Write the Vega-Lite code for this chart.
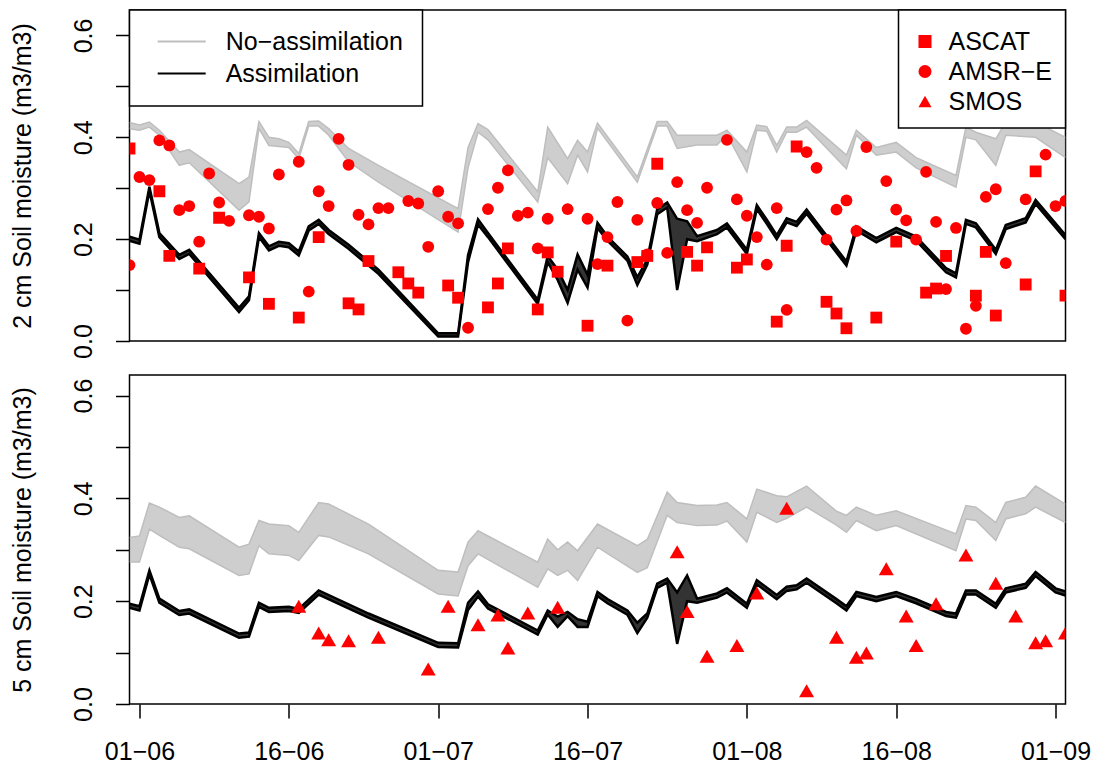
{
 "$schema": "https://vega.github.io/schema/vega-lite/v6.json",
 "background": "white",
 "padding": {"left": 8.5, "top": 8, "right": 0, "bottom": 0},
 "spacing": 34,
 "bounds": "flush",
 "config": {
  "font": "Liberation Sans",
  "view": {"stroke": "black", "strokeWidth": 1.5},
  "axis": {"grid": false, "domain": false, "tickColor": "black", "tickWidth": 1.5, "tickSize": 14, "labelFont": "Liberation Sans", "labelFontSize": 25, "labelColor": "black", "titleFont": "Liberation Sans", "titleFontSize": 25, "titleFontWeight": "normal", "titleColor": "black", "labelOverlap": false, "labelFlush": false},
  "legend": {"labelFont": "Liberation Sans", "labelFontSize": 25, "labelColor": "black", "strokeColor": "black", "strokeWidth": 1.5, "fillColor": "white", "offset": 0, "cornerRadius": 0, "labelLimit": 400}
 },
 "resolve": {"scale": {"x": "independent", "y": "independent", "stroke": "independent", "shape": "independent"}, "legend": {"stroke": "independent", "shape": "independent"}},
 "datasets": {
  "top_lines": [
   {"run":"No−assimilation","date":"2010-05-31","lo":0.417,"hi":0.429},
   {"run":"No−assimilation","date":"2010-06-01","lo":0.414,"hi":0.424},
   {"run":"No−assimilation","date":"2010-06-02","lo":0.420,"hi":0.430},
   {"run":"No−assimilation","date":"2010-06-03","lo":0.404,"hi":0.414},
   {"run":"No−assimilation","date":"2010-06-05","lo":0.345,"hi":0.371},
   {"run":"No−assimilation","date":"2010-06-06","lo":0.350,"hi":0.376},
   {"run":"No−assimilation","date":"2010-06-11","lo":0.257,"hi":0.309},
   {"run":"No−assimilation","date":"2010-06-12","lo":0.273,"hi":0.322},
   {"run":"No−assimilation","date":"2010-06-13","lo":0.417,"hi":0.431},
   {"run":"No−assimilation","date":"2010-06-14","lo":0.384,"hi":0.400},
   {"run":"No−assimilation","date":"2010-06-15","lo":0.382,"hi":0.397},
   {"run":"No−assimilation","date":"2010-06-16","lo":0.380,"hi":0.390},
   {"run":"No−assimilation","date":"2010-06-17","lo":0.358,"hi":0.368},
   {"run":"No−assimilation","date":"2010-06-18","lo":0.422,"hi":0.431},
   {"run":"No−assimilation","date":"2010-06-19","lo":0.422,"hi":0.432},
   {"run":"No−assimilation","date":"2010-06-20","lo":0.404,"hi":0.417},
   {"run":"No−assimilation","date":"2010-06-22","lo":0.352,"hi":0.378},
   {"run":"No−assimilation","date":"2010-06-25","lo":0.312,"hi":0.345},
   {"run":"No−assimilation","date":"2010-07-03","lo":0.214,"hi":0.260},
   {"run":"No−assimilation","date":"2010-07-04","lo":0.340,"hi":0.380},
   {"run":"No−assimilation","date":"2010-07-05","lo":0.410,"hi":0.427},
   {"run":"No−assimilation","date":"2010-07-06","lo":0.395,"hi":0.415},
   {"run":"No−assimilation","date":"2010-07-11","lo":0.273,"hi":0.293},
   {"run":"No−assimilation","date":"2010-07-12","lo":0.360,"hi":0.420},
   {"run":"No−assimilation","date":"2010-07-14","lo":0.309,"hi":0.358},
   {"run":"No−assimilation","date":"2010-07-15","lo":0.365,"hi":0.394},
   {"run":"No−assimilation","date":"2010-07-16","lo":0.332,"hi":0.371},
   {"run":"No−assimilation","date":"2010-07-17","lo":0.418,"hi":0.428},
   {"run":"No−assimilation","date":"2010-07-21","lo":0.312,"hi":0.322},
   {"run":"No−assimilation","date":"2010-07-23","lo":0.422,"hi":0.431},
   {"run":"No−assimilation","date":"2010-07-24","lo":0.422,"hi":0.431},
   {"run":"No−assimilation","date":"2010-07-25","lo":0.378,"hi":0.404},
   {"run":"No−assimilation","date":"2010-07-27","lo":0.385,"hi":0.404},
   {"run":"No−assimilation","date":"2010-07-29","lo":0.385,"hi":0.404},
   {"run":"No−assimilation","date":"2010-07-30","lo":0.405,"hi":0.414},
   {"run":"No−assimilation","date":"2010-08-01","lo":0.332,"hi":0.371},
   {"run":"No−assimilation","date":"2010-08-02","lo":0.414,"hi":0.424},
   {"run":"No−assimilation","date":"2010-08-03","lo":0.412,"hi":0.421},
   {"run":"No−assimilation","date":"2010-08-04","lo":0.371,"hi":0.384},
   {"run":"No−assimilation","date":"2010-08-05","lo":0.410,"hi":0.420},
   {"run":"No−assimilation","date":"2010-08-06","lo":0.410,"hi":0.420},
   {"run":"No−assimilation","date":"2010-08-07","lo":0.420,"hi":0.433},
   {"run":"No−assimilation","date":"2010-08-11","lo":0.338,"hi":0.365},
   {"run":"No−assimilation","date":"2010-08-12","lo":0.404,"hi":0.414},
   {"run":"No−assimilation","date":"2010-08-14","lo":0.365,"hi":0.380},
   {"run":"No−assimilation","date":"2010-08-16","lo":0.371,"hi":0.390},
   {"run":"No−assimilation","date":"2010-08-18","lo":0.340,"hi":0.360},
   {"run":"No−assimilation","date":"2010-08-22","lo":0.302,"hi":0.325},
   {"run":"No−assimilation","date":"2010-08-23","lo":0.400,"hi":0.420},
   {"run":"No−assimilation","date":"2010-08-24","lo":0.395,"hi":0.410},
   {"run":"No−assimilation","date":"2010-08-26","lo":0.345,"hi":0.397},
   {"run":"No−assimilation","date":"2010-08-27","lo":0.404,"hi":0.430},
   {"run":"No−assimilation","date":"2010-08-30","lo":0.400,"hi":0.430},
   {"run":"No−assimilation","date":"2010-09-02","lo":0.360,"hi":0.400},
   {"run":"Assimilation","date":"2010-05-31","lo":0.197,"hi":0.205},
   {"run":"Assimilation","date":"2010-06-01","lo":0.191,"hi":0.199},
   {"run":"Assimilation","date":"2010-06-02","lo":0.295,"hi":0.303},
   {"run":"Assimilation","date":"2010-06-03","lo":0.204,"hi":0.212},
   {"run":"Assimilation","date":"2010-06-05","lo":0.161,"hi":0.169},
   {"run":"Assimilation","date":"2010-06-06","lo":0.171,"hi":0.179},
   {"run":"Assimilation","date":"2010-06-11","lo":0.057,"hi":0.065},
   {"run":"Assimilation","date":"2010-06-12","lo":0.080,"hi":0.088},
   {"run":"Assimilation","date":"2010-06-13","lo":0.204,"hi":0.212},
   {"run":"Assimilation","date":"2010-06-14","lo":0.178,"hi":0.186},
   {"run":"Assimilation","date":"2010-06-15","lo":0.187,"hi":0.195},
   {"run":"Assimilation","date":"2010-06-16","lo":0.184,"hi":0.192},
   {"run":"Assimilation","date":"2010-06-17","lo":0.168,"hi":0.176},
   {"run":"Assimilation","date":"2010-06-18","lo":0.217,"hi":0.225},
   {"run":"Assimilation","date":"2010-06-19","lo":0.230,"hi":0.238},
   {"run":"Assimilation","date":"2010-06-20","lo":0.210,"hi":0.218},
   {"run":"Assimilation","date":"2010-06-22","lo":0.181,"hi":0.189},
   {"run":"Assimilation","date":"2010-06-25","lo":0.132,"hi":0.140},
   {"run":"Assimilation","date":"2010-07-01","lo":0.009,"hi":0.015},
   {"run":"Assimilation","date":"2010-07-03","lo":0.009,"hi":0.015},
   {"run":"Assimilation","date":"2010-07-04","lo":0.155,"hi":0.169},
   {"run":"Assimilation","date":"2010-07-05","lo":0.229,"hi":0.239},
   {"run":"Assimilation","date":"2010-07-06","lo":0.204,"hi":0.212},
   {"run":"Assimilation","date":"2010-07-11","lo":0.073,"hi":0.081},
   {"run":"Assimilation","date":"2010-07-12","lo":0.155,"hi":0.167},
   {"run":"Assimilation","date":"2010-07-13","lo":0.120,"hi":0.140},
   {"run":"Assimilation","date":"2010-07-14","lo":0.075,"hi":0.100},
   {"run":"Assimilation","date":"2010-07-15","lo":0.140,"hi":0.170},
   {"run":"Assimilation","date":"2010-07-16","lo":0.105,"hi":0.130},
   {"run":"Assimilation","date":"2010-07-17","lo":0.222,"hi":0.232},
   {"run":"Assimilation","date":"2010-07-18","lo":0.197,"hi":0.205},
   {"run":"Assimilation","date":"2010-07-20","lo":0.158,"hi":0.166},
   {"run":"Assimilation","date":"2010-07-21","lo":0.110,"hi":0.125},
   {"run":"Assimilation","date":"2010-07-22","lo":0.150,"hi":0.160},
   {"run":"Assimilation","date":"2010-07-23","lo":0.249,"hi":0.259},
   {"run":"Assimilation","date":"2010-07-24","lo":0.262,"hi":0.272},
   {"run":"Assimilation","date":"2010-07-25","lo":0.100,"hi":0.240},
   {"run":"Assimilation","date":"2010-07-26","lo":0.200,"hi":0.235},
   {"run":"Assimilation","date":"2010-07-27","lo":0.196,"hi":0.206},
   {"run":"Assimilation","date":"2010-07-29","lo":0.210,"hi":0.218},
   {"run":"Assimilation","date":"2010-07-30","lo":0.223,"hi":0.231},
   {"run":"Assimilation","date":"2010-08-01","lo":0.171,"hi":0.179},
   {"run":"Assimilation","date":"2010-08-02","lo":0.259,"hi":0.267},
   {"run":"Assimilation","date":"2010-08-03","lo":0.230,"hi":0.238},
   {"run":"Assimilation","date":"2010-08-04","lo":0.200,"hi":0.208},
   {"run":"Assimilation","date":"2010-08-05","lo":0.233,"hi":0.241},
   {"run":"Assimilation","date":"2010-08-06","lo":0.226,"hi":0.234},
   {"run":"Assimilation","date":"2010-08-07","lo":0.250,"hi":0.258},
   {"run":"Assimilation","date":"2010-08-11","lo":0.148,"hi":0.156},
   {"run":"Assimilation","date":"2010-08-12","lo":0.217,"hi":0.225},
   {"run":"Assimilation","date":"2010-08-14","lo":0.194,"hi":0.202},
   {"run":"Assimilation","date":"2010-08-16","lo":0.214,"hi":0.222},
   {"run":"Assimilation","date":"2010-08-18","lo":0.197,"hi":0.205},
   {"run":"Assimilation","date":"2010-08-21","lo":0.135,"hi":0.143},
   {"run":"Assimilation","date":"2010-08-22","lo":0.125,"hi":0.133},
   {"run":"Assimilation","date":"2010-08-23","lo":0.230,"hi":0.238},
   {"run":"Assimilation","date":"2010-08-24","lo":0.223,"hi":0.231},
   {"run":"Assimilation","date":"2010-08-26","lo":0.171,"hi":0.179},
   {"run":"Assimilation","date":"2010-08-27","lo":0.220,"hi":0.228},
   {"run":"Assimilation","date":"2010-08-29","lo":0.233,"hi":0.241},
   {"run":"Assimilation","date":"2010-08-30","lo":0.269,"hi":0.277},
   {"run":"Assimilation","date":"2010-09-02","lo":0.200,"hi":0.208}
  ],
  "bottom_lines": [
   {"run":"No−assimilation","date":"2010-05-31","lo":0.276,"hi":0.324},
   {"run":"No−assimilation","date":"2010-06-01","lo":0.276,"hi":0.327},
   {"run":"No−assimilation","date":"2010-06-02","lo":0.340,"hi":0.391},
   {"run":"No−assimilation","date":"2010-06-03","lo":0.328,"hi":0.383},
   {"run":"No−assimilation","date":"2010-06-05","lo":0.305,"hi":0.363},
   {"run":"No−assimilation","date":"2010-06-06","lo":0.302,"hi":0.366},
   {"run":"No−assimilation","date":"2010-06-11","lo":0.250,"hi":0.305},
   {"run":"No−assimilation","date":"2010-06-12","lo":0.253,"hi":0.311},
   {"run":"No−assimilation","date":"2010-06-13","lo":0.308,"hi":0.357},
   {"run":"No−assimilation","date":"2010-06-14","lo":0.292,"hi":0.350},
   {"run":"No−assimilation","date":"2010-06-16","lo":0.289,"hi":0.347},
   {"run":"No−assimilation","date":"2010-06-17","lo":0.279,"hi":0.334},
   {"run":"No−assimilation","date":"2010-06-19","lo":0.328,"hi":0.392},
   {"run":"No−assimilation","date":"2010-06-20","lo":0.325,"hi":0.389},
   {"run":"No−assimilation","date":"2010-06-24","lo":0.292,"hi":0.350},
   {"run":"No−assimilation","date":"2010-07-01","lo":0.214,"hi":0.260},
   {"run":"No−assimilation","date":"2010-07-03","lo":0.210,"hi":0.257},
   {"run":"No−assimilation","date":"2010-07-04","lo":0.269,"hi":0.315},
   {"run":"No−assimilation","date":"2010-07-05","lo":0.292,"hi":0.337},
   {"run":"No−assimilation","date":"2010-07-11","lo":0.227,"hi":0.276},
   {"run":"No−assimilation","date":"2010-07-12","lo":0.263,"hi":0.321},
   {"run":"No−assimilation","date":"2010-07-13","lo":0.250,"hi":0.300},
   {"run":"No−assimilation","date":"2010-07-14","lo":0.260,"hi":0.315},
   {"run":"No−assimilation","date":"2010-07-15","lo":0.240,"hi":0.298},
   {"run":"No−assimilation","date":"2010-07-17","lo":0.305,"hi":0.350},
   {"run":"No−assimilation","date":"2010-07-21","lo":0.256,"hi":0.308},
   {"run":"No−assimilation","date":"2010-07-22","lo":0.265,"hi":0.320},
   {"run":"No−assimilation","date":"2010-07-24","lo":0.367,"hi":0.412},
   {"run":"No−assimilation","date":"2010-07-25","lo":0.353,"hi":0.392},
   {"run":"No−assimilation","date":"2010-07-27","lo":0.347,"hi":0.386},
   {"run":"No−assimilation","date":"2010-07-29","lo":0.348,"hi":0.387},
   {"run":"No−assimilation","date":"2010-07-30","lo":0.356,"hi":0.392},
   {"run":"No−assimilation","date":"2010-08-01","lo":0.315,"hi":0.360},
   {"run":"No−assimilation","date":"2010-08-02","lo":0.373,"hi":0.418},
   {"run":"No−assimilation","date":"2010-08-04","lo":0.353,"hi":0.405},
   {"run":"No−assimilation","date":"2010-08-05","lo":0.361,"hi":0.403},
   {"run":"No−assimilation","date":"2010-08-07","lo":0.383,"hi":0.424},
   {"run":"No−assimilation","date":"2010-08-10","lo":0.348,"hi":0.375},
   {"run":"No−assimilation","date":"2010-08-11","lo":0.334,"hi":0.367},
   {"run":"No−assimilation","date":"2010-08-12","lo":0.357,"hi":0.383},
   {"run":"No−assimilation","date":"2010-08-14","lo":0.337,"hi":0.367},
   {"run":"No−assimilation","date":"2010-08-16","lo":0.347,"hi":0.376},
   {"run":"No−assimilation","date":"2010-08-22","lo":0.298,"hi":0.331},
   {"run":"No−assimilation","date":"2010-08-23","lo":0.360,"hi":0.386},
   {"run":"No−assimilation","date":"2010-08-24","lo":0.357,"hi":0.383},
   {"run":"No−assimilation","date":"2010-08-26","lo":0.318,"hi":0.353},
   {"run":"No−assimilation","date":"2010-08-27","lo":0.360,"hi":0.392},
   {"run":"No−assimilation","date":"2010-08-29","lo":0.370,"hi":0.402},
   {"run":"No−assimilation","date":"2010-08-30","lo":0.383,"hi":0.424},
   {"run":"No−assimilation","date":"2010-09-02","lo":0.353,"hi":0.389},
   {"run":"Assimilation","date":"2010-05-31","lo":0.187,"hi":0.195},
   {"run":"Assimilation","date":"2010-06-01","lo":0.182,"hi":0.190},
   {"run":"Assimilation","date":"2010-06-02","lo":0.252,"hi":0.260},
   {"run":"Assimilation","date":"2010-06-03","lo":0.197,"hi":0.205},
   {"run":"Assimilation","date":"2010-06-05","lo":0.173,"hi":0.181},
   {"run":"Assimilation","date":"2010-06-06","lo":0.176,"hi":0.184},
   {"run":"Assimilation","date":"2010-06-11","lo":0.129,"hi":0.137},
   {"run":"Assimilation","date":"2010-06-12","lo":0.131,"hi":0.139},
   {"run":"Assimilation","date":"2010-06-13","lo":0.189,"hi":0.197},
   {"run":"Assimilation","date":"2010-06-14","lo":0.179,"hi":0.187},
   {"run":"Assimilation","date":"2010-06-16","lo":0.181,"hi":0.189},
   {"run":"Assimilation","date":"2010-06-17","lo":0.177,"hi":0.185},
   {"run":"Assimilation","date":"2010-06-19","lo":0.213,"hi":0.221},
   {"run":"Assimilation","date":"2010-06-24","lo":0.168,"hi":0.176},
   {"run":"Assimilation","date":"2010-07-01","lo":0.111,"hi":0.119},
   {"run":"Assimilation","date":"2010-07-03","lo":0.110,"hi":0.118},
   {"run":"Assimilation","date":"2010-07-04","lo":0.183,"hi":0.197},
   {"run":"Assimilation","date":"2010-07-05","lo":0.209,"hi":0.219},
   {"run":"Assimilation","date":"2010-07-06","lo":0.186,"hi":0.194},
   {"run":"Assimilation","date":"2010-07-11","lo":0.135,"hi":0.143},
   {"run":"Assimilation","date":"2010-07-12","lo":0.174,"hi":0.182},
   {"run":"Assimilation","date":"2010-07-13","lo":0.150,"hi":0.170},
   {"run":"Assimilation","date":"2010-07-14","lo":0.171,"hi":0.179},
   {"run":"Assimilation","date":"2010-07-15","lo":0.150,"hi":0.165},
   {"run":"Assimilation","date":"2010-07-16","lo":0.150,"hi":0.160},
   {"run":"Assimilation","date":"2010-07-17","lo":0.210,"hi":0.218},
   {"run":"Assimilation","date":"2010-07-18","lo":0.196,"hi":0.204},
   {"run":"Assimilation","date":"2010-07-20","lo":0.174,"hi":0.182},
   {"run":"Assimilation","date":"2010-07-21","lo":0.138,"hi":0.158},
   {"run":"Assimilation","date":"2010-07-22","lo":0.168,"hi":0.176},
   {"run":"Assimilation","date":"2010-07-23","lo":0.226,"hi":0.234},
   {"run":"Assimilation","date":"2010-07-24","lo":0.236,"hi":0.244},
   {"run":"Assimilation","date":"2010-07-25","lo":0.117,"hi":0.217},
   {"run":"Assimilation","date":"2010-07-26","lo":0.200,"hi":0.250},
   {"run":"Assimilation","date":"2010-07-27","lo":0.197,"hi":0.205},
   {"run":"Assimilation","date":"2010-07-29","lo":0.207,"hi":0.215},
   {"run":"Assimilation","date":"2010-07-30","lo":0.217,"hi":0.225},
   {"run":"Assimilation","date":"2010-08-01","lo":0.187,"hi":0.195},
   {"run":"Assimilation","date":"2010-08-02","lo":0.233,"hi":0.241},
   {"run":"Assimilation","date":"2010-08-04","lo":0.204,"hi":0.212},
   {"run":"Assimilation","date":"2010-08-05","lo":0.220,"hi":0.228},
   {"run":"Assimilation","date":"2010-08-06","lo":0.223,"hi":0.231},
   {"run":"Assimilation","date":"2010-08-07","lo":0.236,"hi":0.244},
   {"run":"Assimilation","date":"2010-08-10","lo":0.196,"hi":0.204},
   {"run":"Assimilation","date":"2010-08-11","lo":0.182,"hi":0.190},
   {"run":"Assimilation","date":"2010-08-12","lo":0.210,"hi":0.218},
   {"run":"Assimilation","date":"2010-08-14","lo":0.200,"hi":0.208},
   {"run":"Assimilation","date":"2010-08-16","lo":0.210,"hi":0.218},
   {"run":"Assimilation","date":"2010-08-18","lo":0.196,"hi":0.204},
   {"run":"Assimilation","date":"2010-08-21","lo":0.171,"hi":0.179},
   {"run":"Assimilation","date":"2010-08-22","lo":0.168,"hi":0.176},
   {"run":"Assimilation","date":"2010-08-23","lo":0.213,"hi":0.221},
   {"run":"Assimilation","date":"2010-08-24","lo":0.213,"hi":0.221},
   {"run":"Assimilation","date":"2010-08-26","lo":0.187,"hi":0.195},
   {"run":"Assimilation","date":"2010-08-27","lo":0.217,"hi":0.225},
   {"run":"Assimilation","date":"2010-08-29","lo":0.226,"hi":0.234},
   {"run":"Assimilation","date":"2010-08-30","lo":0.249,"hi":0.257},
   {"run":"Assimilation","date":"2010-09-01","lo":0.217,"hi":0.225},
   {"run":"Assimilation","date":"2010-09-02","lo":0.211,"hi":0.219}
  ],
  "top_obs": [
   {"sensor":"ASCAT","date":"2010-05-31","sm":0.378},
   {"sensor":"ASCAT","date":"2010-06-03","sm":0.294},
   {"sensor":"ASCAT","date":"2010-06-04","sm":0.167},
   {"sensor":"ASCAT","date":"2010-06-07","sm":0.142},
   {"sensor":"ASCAT","date":"2010-06-09","sm":0.242},
   {"sensor":"ASCAT","date":"2010-06-12","sm":0.125},
   {"sensor":"ASCAT","date":"2010-06-14","sm":0.073},
   {"sensor":"ASCAT","date":"2010-06-17","sm":0.046},
   {"sensor":"ASCAT","date":"2010-06-19","sm":0.204},
   {"sensor":"ASCAT","date":"2010-06-22","sm":0.074},
   {"sensor":"ASCAT","date":"2010-06-23","sm":0.062},
   {"sensor":"ASCAT","date":"2010-06-24","sm":0.157},
   {"sensor":"ASCAT","date":"2010-06-27","sm":0.135},
   {"sensor":"ASCAT","date":"2010-06-28","sm":0.113},
   {"sensor":"ASCAT","date":"2010-06-29","sm":0.095},
   {"sensor":"ASCAT","date":"2010-07-02","sm":0.109},
   {"sensor":"ASCAT","date":"2010-07-03","sm":0.085},
   {"sensor":"ASCAT","date":"2010-07-06","sm":0.066},
   {"sensor":"ASCAT","date":"2010-07-07","sm":0.113},
   {"sensor":"ASCAT","date":"2010-07-08","sm":0.182},
   {"sensor":"ASCAT","date":"2010-07-11","sm":0.062},
   {"sensor":"ASCAT","date":"2010-07-12","sm":0.174},
   {"sensor":"ASCAT","date":"2010-07-13","sm":0.136},
   {"sensor":"ASCAT","date":"2010-07-16","sm":0.030},
   {"sensor":"ASCAT","date":"2010-07-18","sm":0.148},
   {"sensor":"ASCAT","date":"2010-07-21","sm":0.155},
   {"sensor":"ASCAT","date":"2010-07-22","sm":0.167},
   {"sensor":"ASCAT","date":"2010-07-23","sm":0.348},
   {"sensor":"ASCAT","date":"2010-07-26","sm":0.175},
   {"sensor":"ASCAT","date":"2010-07-27","sm":0.148},
   {"sensor":"ASCAT","date":"2010-07-28","sm":0.184},
   {"sensor":"ASCAT","date":"2010-07-31","sm":0.144},
   {"sensor":"ASCAT","date":"2010-08-01","sm":0.160},
   {"sensor":"ASCAT","date":"2010-08-04","sm":0.038},
   {"sensor":"ASCAT","date":"2010-08-05","sm":0.187},
   {"sensor":"ASCAT","date":"2010-08-06","sm":0.382},
   {"sensor":"ASCAT","date":"2010-08-09","sm":0.077},
   {"sensor":"ASCAT","date":"2010-08-10","sm":0.054},
   {"sensor":"ASCAT","date":"2010-08-11","sm":0.025},
   {"sensor":"ASCAT","date":"2010-08-14","sm":0.046},
   {"sensor":"ASCAT","date":"2010-08-16","sm":0.195},
   {"sensor":"ASCAT","date":"2010-08-19","sm":0.095},
   {"sensor":"ASCAT","date":"2010-08-20","sm":0.103},
   {"sensor":"ASCAT","date":"2010-08-21","sm":0.167},
   {"sensor":"ASCAT","date":"2010-08-24","sm":0.089},
   {"sensor":"ASCAT","date":"2010-08-25","sm":0.175},
   {"sensor":"ASCAT","date":"2010-08-26","sm":0.050},
   {"sensor":"ASCAT","date":"2010-08-29","sm":0.111},
   {"sensor":"ASCAT","date":"2010-08-30","sm":0.333},
   {"sensor":"ASCAT","date":"2010-09-02","sm":0.089},
   {"sensor":"AMSR−E","date":"2010-05-31","sm":0.149},
   {"sensor":"AMSR−E","date":"2010-06-01","sm":0.322},
   {"sensor":"AMSR−E","date":"2010-06-02","sm":0.316},
   {"sensor":"AMSR−E","date":"2010-06-03","sm":0.394},
   {"sensor":"AMSR−E","date":"2010-06-04","sm":0.384},
   {"sensor":"AMSR−E","date":"2010-06-05","sm":0.257},
   {"sensor":"AMSR−E","date":"2010-06-06","sm":0.265},
   {"sensor":"AMSR−E","date":"2010-06-07","sm":0.195},
   {"sensor":"AMSR−E","date":"2010-06-08","sm":0.329},
   {"sensor":"AMSR−E","date":"2010-06-09","sm":0.272},
   {"sensor":"AMSR−E","date":"2010-06-10","sm":0.236},
   {"sensor":"AMSR−E","date":"2010-06-12","sm":0.247},
   {"sensor":"AMSR−E","date":"2010-06-13","sm":0.244},
   {"sensor":"AMSR−E","date":"2010-06-14","sm":0.221},
   {"sensor":"AMSR−E","date":"2010-06-15","sm":0.327},
   {"sensor":"AMSR−E","date":"2010-06-17","sm":0.352},
   {"sensor":"AMSR−E","date":"2010-06-18","sm":0.097},
   {"sensor":"AMSR−E","date":"2010-06-19","sm":0.294},
   {"sensor":"AMSR−E","date":"2010-06-20","sm":0.265},
   {"sensor":"AMSR−E","date":"2010-06-21","sm":0.397},
   {"sensor":"AMSR−E","date":"2010-06-22","sm":0.346},
   {"sensor":"AMSR−E","date":"2010-06-23","sm":0.248},
   {"sensor":"AMSR−E","date":"2010-06-24","sm":0.229},
   {"sensor":"AMSR−E","date":"2010-06-25","sm":0.261},
   {"sensor":"AMSR−E","date":"2010-06-26","sm":0.261},
   {"sensor":"AMSR−E","date":"2010-06-28","sm":0.275},
   {"sensor":"AMSR−E","date":"2010-06-29","sm":0.270},
   {"sensor":"AMSR−E","date":"2010-06-30","sm":0.185},
   {"sensor":"AMSR−E","date":"2010-07-01","sm":0.294},
   {"sensor":"AMSR−E","date":"2010-07-02","sm":0.244},
   {"sensor":"AMSR−E","date":"2010-07-03","sm":0.231},
   {"sensor":"AMSR−E","date":"2010-07-04","sm":0.026},
   {"sensor":"AMSR−E","date":"2010-07-06","sm":0.259},
   {"sensor":"AMSR−E","date":"2010-07-07","sm":0.301},
   {"sensor":"AMSR−E","date":"2010-07-08","sm":0.335},
   {"sensor":"AMSR−E","date":"2010-07-09","sm":0.246},
   {"sensor":"AMSR−E","date":"2010-07-10","sm":0.252},
   {"sensor":"AMSR−E","date":"2010-07-11","sm":0.182},
   {"sensor":"AMSR−E","date":"2010-07-12","sm":0.240},
   {"sensor":"AMSR−E","date":"2010-07-14","sm":0.259},
   {"sensor":"AMSR−E","date":"2010-07-16","sm":0.240},
   {"sensor":"AMSR−E","date":"2010-07-17","sm":0.151},
   {"sensor":"AMSR−E","date":"2010-07-18","sm":0.204},
   {"sensor":"AMSR−E","date":"2010-07-19","sm":0.273},
   {"sensor":"AMSR−E","date":"2010-07-20","sm":0.040},
   {"sensor":"AMSR−E","date":"2010-07-21","sm":0.238},
   {"sensor":"AMSR−E","date":"2010-07-22","sm":0.170},
   {"sensor":"AMSR−E","date":"2010-07-23","sm":0.271},
   {"sensor":"AMSR−E","date":"2010-07-24","sm":0.173},
   {"sensor":"AMSR−E","date":"2010-07-25","sm":0.312},
   {"sensor":"AMSR−E","date":"2010-07-26","sm":0.257},
   {"sensor":"AMSR−E","date":"2010-07-27","sm":0.232},
   {"sensor":"AMSR−E","date":"2010-07-28","sm":0.301},
   {"sensor":"AMSR−E","date":"2010-07-30","sm":0.395},
   {"sensor":"AMSR−E","date":"2010-07-31","sm":0.278},
   {"sensor":"AMSR−E","date":"2010-08-01","sm":0.246},
   {"sensor":"AMSR−E","date":"2010-08-02","sm":0.204},
   {"sensor":"AMSR−E","date":"2010-08-03","sm":0.150},
   {"sensor":"AMSR−E","date":"2010-08-04","sm":0.261},
   {"sensor":"AMSR−E","date":"2010-08-05","sm":0.061},
   {"sensor":"AMSR−E","date":"2010-08-07","sm":0.371},
   {"sensor":"AMSR−E","date":"2010-08-08","sm":0.340},
   {"sensor":"AMSR−E","date":"2010-08-09","sm":0.199},
   {"sensor":"AMSR−E","date":"2010-08-10","sm":0.258},
   {"sensor":"AMSR−E","date":"2010-08-11","sm":0.276},
   {"sensor":"AMSR−E","date":"2010-08-12","sm":0.216},
   {"sensor":"AMSR−E","date":"2010-08-13","sm":0.381},
   {"sensor":"AMSR−E","date":"2010-08-15","sm":0.314},
   {"sensor":"AMSR−E","date":"2010-08-16","sm":0.258},
   {"sensor":"AMSR−E","date":"2010-08-17","sm":0.237},
   {"sensor":"AMSR−E","date":"2010-08-18","sm":0.199},
   {"sensor":"AMSR−E","date":"2010-08-19","sm":0.332},
   {"sensor":"AMSR−E","date":"2010-08-20","sm":0.234},
   {"sensor":"AMSR−E","date":"2010-08-21","sm":0.102},
   {"sensor":"AMSR−E","date":"2010-08-22","sm":0.222},
   {"sensor":"AMSR−E","date":"2010-08-23","sm":0.024},
   {"sensor":"AMSR−E","date":"2010-08-24","sm":0.069},
   {"sensor":"AMSR−E","date":"2010-08-25","sm":0.283},
   {"sensor":"AMSR−E","date":"2010-08-26","sm":0.298},
   {"sensor":"AMSR−E","date":"2010-08-27","sm":0.153},
   {"sensor":"AMSR−E","date":"2010-08-29","sm":0.278},
   {"sensor":"AMSR−E","date":"2010-08-31","sm":0.366},
   {"sensor":"AMSR−E","date":"2010-09-01","sm":0.265},
   {"sensor":"AMSR−E","date":"2010-09-02","sm":0.275}
  ],
  "bottom_obs": [
   {"sensor":"SMOS","date":"2010-06-17","sm":0.190},
   {"sensor":"SMOS","date":"2010-06-19","sm":0.138},
   {"sensor":"SMOS","date":"2010-06-20","sm":0.125},
   {"sensor":"SMOS","date":"2010-06-22","sm":0.123},
   {"sensor":"SMOS","date":"2010-06-25","sm":0.130},
   {"sensor":"SMOS","date":"2010-06-30","sm":0.068},
   {"sensor":"SMOS","date":"2010-07-02","sm":0.190},
   {"sensor":"SMOS","date":"2010-07-05","sm":0.154},
   {"sensor":"SMOS","date":"2010-07-07","sm":0.173},
   {"sensor":"SMOS","date":"2010-07-08","sm":0.109},
   {"sensor":"SMOS","date":"2010-07-10","sm":0.177},
   {"sensor":"SMOS","date":"2010-07-13","sm":0.188},
   {"sensor":"SMOS","date":"2010-07-25","sm":0.296},
   {"sensor":"SMOS","date":"2010-07-26","sm":0.180},
   {"sensor":"SMOS","date":"2010-07-28","sm":0.093},
   {"sensor":"SMOS","date":"2010-07-31","sm":0.114},
   {"sensor":"SMOS","date":"2010-08-02","sm":0.216},
   {"sensor":"SMOS","date":"2010-08-05","sm":0.381},
   {"sensor":"SMOS","date":"2010-08-07","sm":0.026},
   {"sensor":"SMOS","date":"2010-08-10","sm":0.130},
   {"sensor":"SMOS","date":"2010-08-12","sm":0.091},
   {"sensor":"SMOS","date":"2010-08-13","sm":0.099},
   {"sensor":"SMOS","date":"2010-08-15","sm":0.263},
   {"sensor":"SMOS","date":"2010-08-17","sm":0.171},
   {"sensor":"SMOS","date":"2010-08-18","sm":0.114},
   {"sensor":"SMOS","date":"2010-08-20","sm":0.195},
   {"sensor":"SMOS","date":"2010-08-23","sm":0.290},
   {"sensor":"SMOS","date":"2010-08-26","sm":0.235},
   {"sensor":"SMOS","date":"2010-08-28","sm":0.171},
   {"sensor":"SMOS","date":"2010-08-30","sm":0.119},
   {"sensor":"SMOS","date":"2010-08-31","sm":0.123},
   {"sensor":"SMOS","date":"2010-09-02","sm":0.138}
  ]
 },
 "vconcat": [
  {
   "width": 936,
   "height": 331,
   "encoding": {
    "x": {"field": "date", "type": "temporal", "scale": {"type": "utc", "domain": [{"year": 2010, "month": 5, "date": 31, "utc": true}, {"year": 2010, "month": 9, "date": 2, "utc": true}]}, "axis": null},
    "y": {"field": "sm", "type": "quantitative", "scale": {"domain": [0, 0.65], "nice": false, "zero": false}, "title": "2 cm Soil moisture (m3/m3)", "axis": {"values": [0, 0.1, 0.2, 0.3, 0.4, 0.5, 0.6], "labelExpr": "round(datum.value*10) % 2 === 0 ? format(datum.value, '.1f') : ''", "labelAngle": -90, "labelAlign": "center", "labelBaseline": "alphabetic", "labelPadding": 24.5, "labelFontSize": 25, "titleFontSize": 25, "titlePadding": 36}}
   },
   "layer": [
    {
     "data": {"name": "top_lines"},
     "transform": [{"filter": {"field": "run", "equal": "No−assimilation"}}],
     "mark": {"type": "area", "color": "#BEBEBE", "opacity": 0.75, "clip": true},
     "encoding": {
      "y": {"field": "lo", "type": "quantitative", "scale": {"domain": [0, 0.65], "nice": false, "zero": false}, "title": "2 cm Soil moisture (m3/m3)", "axis": {"values": [0, 0.1, 0.2, 0.3, 0.4, 0.5, 0.6], "labelExpr": "round(datum.value*10) % 2 === 0 ? format(datum.value, '.1f') : ''", "labelAngle": -90, "labelAlign": "center", "labelBaseline": "alphabetic", "labelPadding": 24.5, "labelFontSize": 25, "titleFontSize": 25, "titlePadding": 36}},
      "y2": {"field": "hi"}
     }
    },
    {
     "data": {"name": "top_lines"},
     "transform": [{"filter": {"field": "run", "equal": "No−assimilation"}}, {"fold": ["lo", "hi"], "as": ["member", "sm"]}],
     "mark": {"type": "line", "strokeWidth": 1.5, "clip": true},
     "encoding": {
      "detail": {"field": "member"},
      "stroke": {"field": "run", "type": "nominal", "scale": {"domain": ["No−assimilation", "Assimilation"], "range": ["#BEBEBE", "#000000"]}, "legend": {"title": null, "orient": "top-left", "padding": 19, "symbolType": "M-0.55,0H7.45", "symbolSize": 144, "symbolStrokeWidth": 2, "labelOffset": 52.2, "rowPadding": 6, "offset": 0}}
     }
    },
    {
     "data": {"name": "top_lines"},
     "transform": [{"filter": {"field": "run", "equal": "Assimilation"}}],
     "mark": {"type": "area", "color": "#000000", "opacity": 0.8, "clip": true},
     "encoding": {
      "y": {"field": "lo", "type": "quantitative", "scale": {"domain": [0, 0.65], "nice": false, "zero": false}, "title": "2 cm Soil moisture (m3/m3)", "axis": {"values": [0, 0.1, 0.2, 0.3, 0.4, 0.5, 0.6], "labelExpr": "round(datum.value*10) % 2 === 0 ? format(datum.value, '.1f') : ''", "labelAngle": -90, "labelAlign": "center", "labelBaseline": "alphabetic", "labelPadding": 24.5, "labelFontSize": 25, "titleFontSize": 25, "titlePadding": 36}},
      "y2": {"field": "hi"}
     }
    },
    {
     "data": {"name": "top_lines"},
     "transform": [{"filter": {"field": "run", "equal": "Assimilation"}}, {"fold": ["lo", "hi"], "as": ["member", "sm"]}],
     "mark": {"type": "line", "strokeWidth": 2.5, "clip": true},
     "encoding": {
      "detail": {"field": "member"},
      "stroke": {"field": "run", "type": "nominal", "scale": {"domain": ["No−assimilation", "Assimilation"], "range": ["#BEBEBE", "#000000"]}, "legend": {"title": null, "orient": "top-left", "padding": 19, "symbolType": "M-0.55,0H7.45", "symbolSize": 144, "symbolStrokeWidth": 2, "labelOffset": 52.2, "rowPadding": 6, "offset": 0}}
     }
    },
    {
     "data": {"name": "top_obs"},
     "mark": {"type": "point", "filled": true, "color": "#FF0000", "opacity": 1, "size": 140, "clip": true},
     "encoding": {
      "shape": {"field": "sensor", "type": "nominal", "scale": {"domain": ["ASCAT", "AMSR−E", "SMOS"], "range": ["square", "circle", "triangle-up"]}, "legend": {"title": " ", "titleFontSize": 1, "titlePadding": 5, "orient": "top-right", "padding": 13, "symbolSize": 170, "symbolFillColor": "#FF0000", "symbolStrokeColor": "#FF0000", "symbolStrokeWidth": 0, "symbolOffset": 1, "labelOffset": 11, "rowPadding": 4, "offset": 0}}
     }
    }
   ]
  },
  {
   "width": 936,
   "height": 329,
   "encoding": {
    "x": {"field": "date", "type": "temporal", "scale": {"type": "utc", "domain": [{"year": 2010, "month": 5, "date": 31, "utc": true}, {"year": 2010, "month": 9, "date": 2, "utc": true}]}, "axis": {"title": null, "values": [{"year": 2010, "month": 6, "date": 1, "utc": true}, {"year": 2010, "month": 6, "date": 16, "utc": true}, {"year": 2010, "month": 7, "date": 1, "utc": true}, {"year": 2010, "month": 7, "date": 16, "utc": true}, {"year": 2010, "month": 8, "date": 1, "utc": true}, {"year": 2010, "month": 8, "date": 16, "utc": true}, {"year": 2010, "month": 9, "date": 1, "utc": true}], "labelExpr": "utcFormat(datum.value, '%d−%m')", "labelBaseline": "alphabetic", "labelPadding": 41, "labelAngle": 0, "labelFontSize": 25}},
    "y": {"field": "sm", "type": "quantitative", "scale": {"domain": [0, 0.64], "nice": false, "zero": false}, "title": "5 cm Soil moisture (m3/m3)", "axis": {"values": [0, 0.1, 0.2, 0.3, 0.4, 0.5, 0.6], "labelExpr": "round(datum.value*10) % 2 === 0 ? format(datum.value, '.1f') : ''", "labelAngle": -90, "labelAlign": "center", "labelBaseline": "alphabetic", "labelPadding": 24.5, "labelFontSize": 25, "titleFontSize": 25, "titlePadding": 36}}
   },
   "layer": [
    {
     "data": {"name": "bottom_lines"},
     "transform": [{"filter": {"field": "run", "equal": "No−assimilation"}}],
     "mark": {"type": "area", "color": "#BEBEBE", "opacity": 0.75, "clip": true},
     "encoding": {
      "y": {"field": "lo", "type": "quantitative", "scale": {"domain": [0, 0.64], "nice": false, "zero": false}, "title": "5 cm Soil moisture (m3/m3)", "axis": {"values": [0, 0.1, 0.2, 0.3, 0.4, 0.5, 0.6], "labelExpr": "round(datum.value*10) % 2 === 0 ? format(datum.value, '.1f') : ''", "labelAngle": -90, "labelAlign": "center", "labelBaseline": "alphabetic", "labelPadding": 24.5, "labelFontSize": 25, "titleFontSize": 25, "titlePadding": 36}},
      "y2": {"field": "hi"}
     }
    },
    {
     "data": {"name": "bottom_lines"},
     "transform": [{"filter": {"field": "run", "equal": "No−assimilation"}}, {"fold": ["lo", "hi"], "as": ["member", "sm"]}],
     "mark": {"type": "line", "strokeWidth": 1.5, "clip": true},
     "encoding": {
      "detail": {"field": "member"},
      "stroke": {"field": "run", "type": "nominal", "scale": {"domain": ["No−assimilation", "Assimilation"], "range": ["#BEBEBE", "#000000"]}, "legend": null}
     }
    },
    {
     "data": {"name": "bottom_lines"},
     "transform": [{"filter": {"field": "run", "equal": "Assimilation"}}],
     "mark": {"type": "area", "color": "#000000", "opacity": 0.8, "clip": true},
     "encoding": {
      "y": {"field": "lo", "type": "quantitative", "scale": {"domain": [0, 0.64], "nice": false, "zero": false}, "title": "5 cm Soil moisture (m3/m3)", "axis": {"values": [0, 0.1, 0.2, 0.3, 0.4, 0.5, 0.6], "labelExpr": "round(datum.value*10) % 2 === 0 ? format(datum.value, '.1f') : ''", "labelAngle": -90, "labelAlign": "center", "labelBaseline": "alphabetic", "labelPadding": 24.5, "labelFontSize": 25, "titleFontSize": 25, "titlePadding": 36}},
      "y2": {"field": "hi"}
     }
    },
    {
     "data": {"name": "bottom_lines"},
     "transform": [{"filter": {"field": "run", "equal": "Assimilation"}}, {"fold": ["lo", "hi"], "as": ["member", "sm"]}],
     "mark": {"type": "line", "strokeWidth": 2.5, "clip": true},
     "encoding": {
      "detail": {"field": "member"},
      "stroke": {"field": "run", "type": "nominal", "scale": {"domain": ["No−assimilation", "Assimilation"], "range": ["#BEBEBE", "#000000"]}, "legend": null}
     }
    },
    {
     "data": {"name": "bottom_obs"},
     "mark": {"type": "point", "shape": "triangle-up", "filled": true, "color": "#FF0000", "opacity": 1, "size": 225, "clip": true},
     "encoding": {}
    }
   ]
  }
 ]
}
